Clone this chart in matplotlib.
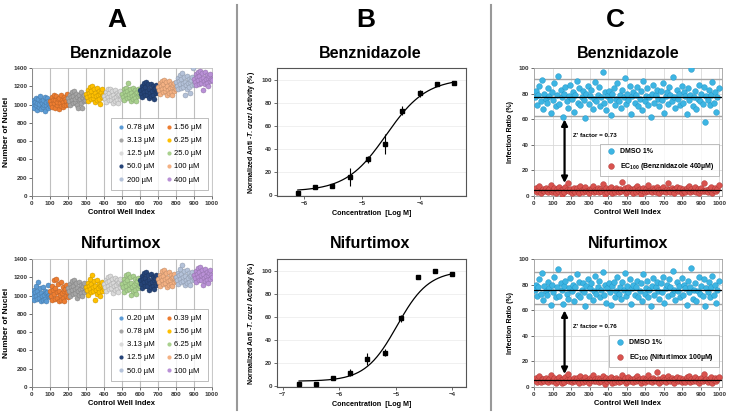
import numpy as np
import matplotlib.pyplot as plt
from matplotlib.lines import Line2D
from matplotlib.colors import to_rgb

plt.rcParams['font.family'] = ['Liberation Sans', 'DejaVu Sans']
plt.rcParams['font.weight'] = 'bold'
plt.rcParams['mathtext.fontset'] = 'custom'
plt.rcParams['mathtext.rm'] = 'Liberation Sans:bold'
plt.rcParams['mathtext.it'] = 'Liberation Sans:italic:bold'
plt.rcParams['mathtext.bf'] = 'Liberation Sans:bold'

# ---------------- panel A: nuclei counts per control well group ----------------
group_colors = ['#5B9BD5', '#ED7D31', '#A5A5A5', '#FFC000', '#D9D9D9',
                '#A9D18E', '#264478', '#F4B183', '#B4C2D9', '#B990D6']

bz_labels = ['0.78 µM', '1.56 µM', '3.13 µM', '6.25 µM', '12.5 µM',
             '25.0 µM', '50.0 µM', '100 µM', '200 µM', '400 µM']
nf_labels = ['0.20 µM', '0.39 µM', '0.78 µM', '1.56 µM', '3.13 µM',
             '6.25 µM', '12.5 µM', '25.0 µM', '50.0 µM', '100 µM']

bz_nuclei = [
    [1012, 985, 1048, 960, 1030, 1075, 995, 940, 1020, 1060, 975, 1005, 1090, 950, 1038, 1015, 968, 1052, 1000, 925, 1082, 990, 1025, 1068, 958, 1042, 1008, 980],
    [1040, 1005, 1080, 975, 1055, 1110, 1020, 960, 1045, 1090, 990, 1030, 1065, 955, 1070, 1015, 985, 1100, 1050, 970, 1025, 1085, 1000, 1060, 1038, 995, 1118, 1010],
    [1070, 1040, 1110, 1000, 1085, 1135, 1055, 1020, 1095, 1150, 1030, 1065, 1120, 990, 1078, 960, 1048, 1100, 1060, 1012, 1140, 1088, 958, 1075, 1035, 1105, 1050, 1082],
    [1115, 1080, 1160, 1040, 1130, 1195, 1095, 1060, 1145, 1205, 1070, 1110, 1175, 1025, 1125, 1090, 1050, 1185, 1100, 1065, 1150, 1120, 1005, 1138, 1085, 1170, 1108, 1075],
    [1095, 1060, 1140, 1030, 1110, 1165, 1080, 1045, 1125, 1170, 1055, 1090, 1150, 1020, 1105, 1070, 1038, 1155, 1085, 1050, 1130, 1100, 1015, 1118, 1065, 1145, 1092, 1075],
    [1120, 1085, 1165, 1050, 1135, 1185, 1100, 1070, 1150, 1240, 1080, 1115, 1175, 1040, 1128, 1095, 1060, 1180, 1110, 1075, 1155, 1125, 1035, 1140, 1090, 1170, 1118, 1102],
    [1160, 1120, 1205, 1085, 1175, 1235, 1140, 1100, 1190, 1245, 1110, 1150, 1220, 1070, 1168, 1130, 1095, 1228, 1145, 1105, 1198, 1165, 1065, 1182, 1125, 1212, 1152, 1135],
    [1190, 1155, 1235, 1120, 1205, 1262, 1170, 1135, 1220, 1268, 1145, 1185, 1248, 1105, 1198, 1160, 1128, 1255, 1178, 1140, 1228, 1195, 1110, 1212, 1150, 1240, 1182, 1165],
    [1245, 1205, 1290, 1165, 1260, 1325, 1225, 1180, 1275, 1340, 1195, 1240, 1305, 1100, 1252, 1215, 1170, 1315, 1235, 1190, 1282, 1250, 1125, 1268, 1210, 1298, 1395, 1230],
    [1285, 1250, 1330, 1210, 1300, 1360, 1265, 1230, 1315, 1370, 1240, 1280, 1345, 1160, 1292, 1255, 1220, 1352, 1275, 1235, 1322, 1290, 1200, 1308, 1260, 1338, 1282, 1270],
]

nf_nuclei = [
    [1020, 985, 1065, 950, 1035, 1110, 1000, 960, 1045, 1150, 970, 1015, 1085, 940, 1030, 995, 955, 1095, 1010, 965, 1055, 1025, 945, 1040, 990, 1120, 1008, 980],
    [1045, 1000, 1100, 950, 1060, 1170, 1020, 960, 1080, 1180, 975, 1040, 1130, 940, 1055, 1010, 955, 1145, 1030, 968, 1090, 1050, 938, 1070, 995, 1115, 1035, 985],
    [1080, 1045, 1125, 1000, 1095, 1160, 1060, 1020, 1110, 1170, 1030, 1075, 1140, 975, 1088, 1050, 1010, 1150, 1070, 1025, 1118, 1085, 990, 1100, 1040, 1135, 1078, 1058],
    [1095, 1060, 1140, 1010, 1110, 1180, 1075, 1035, 1125, 1230, 1045, 1090, 1160, 950, 1102, 1065, 1020, 1170, 1085, 1040, 1130, 1100, 990, 1118, 1055, 1150, 1092, 1070],
    [1130, 1095, 1175, 1050, 1145, 1200, 1110, 1070, 1160, 1210, 1080, 1125, 1185, 1030, 1138, 1100, 1060, 1190, 1120, 1075, 1168, 1135, 1040, 1152, 1090, 1180, 1128, 1105],
    [1130, 1090, 1185, 1040, 1150, 1225, 1105, 1060, 1170, 1240, 1070, 1125, 1200, 1010, 1140, 1095, 1045, 1210, 1115, 1065, 1178, 1135, 1020, 1160, 1080, 1195, 1120, 1100],
    [1165, 1125, 1210, 1080, 1180, 1245, 1145, 1100, 1195, 1255, 1110, 1160, 1230, 1065, 1172, 1135, 1090, 1238, 1150, 1105, 1205, 1170, 1070, 1188, 1120, 1222, 1158, 1140],
    [1185, 1150, 1230, 1110, 1200, 1270, 1165, 1125, 1215, 1280, 1135, 1180, 1250, 1095, 1192, 1155, 1120, 1258, 1175, 1130, 1225, 1190, 1100, 1208, 1145, 1240, 1182, 1162],
    [1205, 1170, 1250, 1130, 1220, 1290, 1185, 1145, 1235, 1330, 1155, 1200, 1270, 1115, 1212, 1175, 1140, 1280, 1195, 1150, 1245, 1210, 1120, 1228, 1165, 1260, 1202, 1182],
    [1225, 1190, 1270, 1150, 1240, 1300, 1205, 1165, 1255, 1315, 1175, 1220, 1285, 1120, 1232, 1195, 1160, 1292, 1215, 1170, 1262, 1230, 1140, 1248, 1185, 1278, 1222, 1200],
]

# ---------------- panel B: dose response ----------------
bz_logc = [-6.11, -5.81, -5.51, -5.20, -4.90, -4.60, -4.30, -4.00, -3.70, -3.40]
bz_act = [1.5, 6.7, 7.8, 15.4, 31.0, 44.0, 73.0, 88.0, 96.5, 97.4]
bz_err = [1.0, 1.0, 1.2, 8.0, 3.0, 8.5, 4.0, 3.0, 1.0, 1.0]
bz_fit = dict(bottom=3.0, top=101.0, logec50=-4.58, hill=1.25)

nf_logc = [-6.71, -6.41, -6.11, -5.81, -5.51, -5.20, -4.90, -4.60, -4.30, -4.00]
nf_act = [1.2, 1.7, 7.0, 11.3, 23.5, 28.8, 58.7, 94.2, 100.0, 96.8]
nf_err = [0.8, 0.8, 1.0, 3.0, 5.0, 3.0, 3.0, 1.0, 1.0, 1.0]
nf_fit = dict(bottom=4.0, top=100.0, logec50=-4.98, hill=1.55)

# ---------------- panel C: infection ratio of control wells ----------------
bz_dmso = [77, 82, 71, 79, 86, 74, 91, 68, 80, 76, 73, 84, 78, 65, 81, 75, 88, 70, 79, 94,
           72, 83, 77, 62, 80, 85, 74, 69, 78, 87, 76, 81, 66, 79, 90, 73, 84, 71, 77, 82,
           75, 61, 80, 86, 72, 78, 83, 68, 76, 89, 74, 79, 85, 70, 77, 97, 73, 81, 67, 78,
           82, 75, 63, 80, 84, 71, 76, 88, 74, 79, 69, 83, 77, 92, 72, 80, 75, 86, 64, 78,
           81, 73, 79, 85, 70, 76, 82, 67, 90, 74, 78, 84, 71, 77, 62, 80, 87, 73, 79, 83,
           76, 70, 82, 75, 88, 65, 78, 81, 72, 85, 79, 74, 93, 77, 69, 83, 76, 80, 71, 86,
           73, 81, 78, 64, 84, 75, 79, 99, 70, 77, 82, 68, 76, 87, 74, 80, 72, 85, 58, 78,
           75, 83, 71, 79, 89, 73, 81, 66, 77, 84]
bz_ec100 = [4.5, 6.1, 3.2, 5.0, 7.8, 2.6, 4.9, 5.7, 3.8, 6.6, 4.1, 2.9, 5.4, 8.9, 3.5, 4.7, 6.2, 2.2, 5.1, 3.9,
            6.8, 4.3, 1.8, 5.6, 3.1, 7.2, 4.6, 10.5, 3.7, 5.3, 2.7, 4.8, 6.4, 3.4, 5.9, 4.0, 2.4, 7.5, 4.4, 3.0,
            5.5, 6.9, 3.6, 4.2, 2.0, 5.8, 4.7, 8.2, 3.3, 5.0, 4.0, 6.3, 2.8, 5.2, 3.9, 9.4, 4.5, 1.6, 6.0, 3.5,
            5.7, 4.1, 7.0, 2.5, 4.9, 3.2, 6.5, 4.3, 2.9, 5.4, 3.8, 11.2, 4.6, 5.9, 2.3, 4.0, 6.7, 3.6, 5.1, 4.8,
            2.6, 6.1, 3.4, 7.7, 4.4, 5.3, 1.9, 4.7, 6.3, 3.1, 5.6, 4.2, 8.6, 3.7, 5.0, 2.8, 6.0, 4.5, 3.3, 7.1,
            4.9, 2.4, 5.5, 3.9, 6.8, 4.1, 3.0, 5.8, 9.8, 4.6, 3.5, 6.4, 4.3, 2.1, 5.2, 7.4, 3.8, 4.8, 6.2, 2.7,
            5.1, 4.0, 3.2, 6.6, 4.4, 8.0, 2.9, 5.7, 3.6, 4.9, 6.9, 3.4, 5.3, 2.5, 4.7, 6.1, 3.9, 10.1, 4.2, 5.0,
            3.1, 5.6, 4.5, 7.3, 2.2, 4.8, 6.0, 3.7, 5.4, 8.4]
nf_dmso = [76, 80, 71, 78, 84, 73, 89, 68, 79, 75, 72, 82, 77, 64, 80, 74, 86, 70, 78, 92,
           71, 81, 76, 65, 79, 83, 73, 69, 77, 85, 75, 80, 67, 78, 88, 72, 82, 70, 76, 81,
           74, 63, 79, 84, 71, 77, 81, 68, 75, 87, 73, 78, 83, 70, 76, 90, 72, 80, 66, 77,
           81, 74, 64, 79, 82, 70, 75, 86, 73, 78, 69, 82, 76, 89, 71, 79, 74, 84, 65, 77,
           80, 72, 78, 83, 70, 75, 81, 67, 88, 73, 77, 83, 70, 76, 63, 79, 85, 72, 78, 82,
           75, 69, 81, 74, 86, 66, 77, 80, 71, 84, 78, 73, 91, 76, 68, 82, 75, 79, 70, 85,
           72, 80, 77, 64, 83, 74, 78, 93, 69, 76, 81, 67, 75, 86, 73, 79, 71, 84, 63, 77,
           74, 82, 70, 78, 87, 72, 80, 66, 76, 83]
nf_ec100 = [5.5, 7.0, 4.2, 6.1, 8.6, 3.7, 5.9, 6.6, 4.8, 7.4, 5.0, 3.9, 6.3, 9.2, 4.5, 5.7, 7.1, 3.2, 6.0, 4.9,
            7.7, 5.3, 2.9, 6.5, 4.1, 8.0, 5.6, 10.2, 4.7, 6.2, 3.6, 5.8, 7.3, 4.4, 6.8, 5.0, 3.4, 8.3, 5.4, 4.0,
            6.4, 7.8, 4.6, 5.2, 3.0, 6.7, 5.7, 9.0, 4.3, 6.0, 5.0, 7.2, 3.8, 6.1, 4.9, 8.8, 5.5, 2.7, 6.9, 4.5,
            6.6, 5.1, 7.9, 3.5, 5.9, 4.2, 7.4, 5.3, 3.9, 6.3, 4.8, 9.6, 5.6, 6.8, 3.3, 5.0, 7.6, 4.6, 6.1, 5.8,
            3.6, 7.0, 4.4, 8.5, 5.4, 6.2, 2.9, 5.7, 7.2, 4.1, 6.5, 5.2, 9.3, 4.7, 6.0, 3.8, 6.9, 5.5, 4.3, 11.8,
            5.9, 3.4, 6.4, 4.9, 7.7, 5.1, 4.0, 6.7, 8.9, 5.6, 4.5, 7.3, 5.3, 3.1, 6.2, 8.2, 4.8, 5.8, 7.1, 3.7,
            6.1, 5.0, 4.2, 7.5, 5.4, 8.7, 3.9, 6.6, 4.6, 5.9, 7.8, 4.4, 6.3, 3.5, 5.7, 7.0, 4.9, 9.9, 5.2, 6.0,
            4.1, 6.5, 5.5, 8.1, 3.2, 5.8, 6.9, 4.7, 6.4, 7.6]

bz_means = (77.0, 4.5)
bz_limits = (91.5, 62.5)
nf_means = (76.0, 5.5)
nf_limits = (89.5, 65.0)
zfactors = [0.73, 0.76]
ec100_labels = ['EC$_{100}$ (Benznidazole 400µM)', 'EC$_{100}$ (Nifurtimox 100µM)']

W, H = 729, 413
fig = plt.figure(figsize=(W / 100, H / 100), dpi=100)


def px_axes(left, top, right, bottom):
    return fig.add_axes([left / W, 1 - bottom / H, (right - left) / W, (bottom - top) / H])


def darker(c, f=0.75):
    r, g, b = to_rgb(c)
    return (r * f, g * f, b * f)


def style_ticks(ax):
    ax.tick_params(labelsize=4.5, length=2, width=0.5, pad=1.5, colors='#333333')
    for lab in ax.get_xticklabels() + ax.get_yticklabels():
        lab.set_fontweight('bold')


def panel_a(ax, groups, labels):
    for i, vals in enumerate(groups):
        x = 100 * i + np.linspace(2, 98, len(vals))
        ax.scatter(x, vals, s=13, color=group_colors[i], edgecolors=darker(group_colors[i]),
                   linewidths=0.3, zorder=3)
    ax.set_xlim(0, 1000)
    ax.set_ylim(0, 1400)
    ax.set_xticks(range(0, 1001, 100))
    ax.set_yticks(range(0, 1401, 200))
    ax.xaxis.grid(True, color='#BFBFBF', lw=0.8)
    ax.set_axisbelow(True)
    for sp in ax.spines.values():
        sp.set_color('#BFBFBF')
        sp.set_linewidth(0.6)
    ax.spines['left'].set_color('#808080')
    ax.spines['bottom'].set_color('#808080')
    style_ticks(ax)
    ax.set_ylabel('Number of Nuclei', fontsize=6, fontweight='bold', labelpad=2)
    ax.set_xlabel('Control Well Index', fontsize=5.5, fontweight='bold', labelpad=2)
    order = [0, 2, 4, 6, 8, 1, 3, 5, 7, 9]
    handles = [Line2D([], [], ls='none', marker='o', ms=3, color=group_colors[k],
                      markeredgewidth=0) for k in order]
    leg = ax.legend(handles, [labels[k] for k in order], ncol=2, loc='lower right',
                    bbox_to_anchor=(1.0, 0.02), fancybox=False, edgecolor='#A0A0A0',
                    prop={'size': 5.5, 'weight': 'normal'}, handletextpad=0.2,
                    columnspacing=1.4, labelspacing=0.75, borderpad=0.8, handlelength=1.0)
    leg.get_frame().set_linewidth(0.6)


def panel_b(ax, logc, act, err, fit, xlim, xticks):
    xs = np.linspace(logc[0], logc[-1], 200)
    ys = fit['bottom'] + (fit['top'] - fit['bottom']) / (1 + 10 ** ((fit['logec50'] - xs) * fit['hill']))
    ax.plot(xs, ys, color='black', lw=0.9, zorder=2)
    ax.errorbar(logc, act, yerr=err, fmt='s', color='black', ms=3.5, elinewidth=0.8,
                capsize=0, zorder=3)
    ax.set_xlim(*xlim)
    ax.set_ylim(-1, 110)
    ax.set_xticks(xticks)
    ax.set_yticks(range(0, 101, 20))
    ax.yaxis.grid(True, color='#EEEEEE', lw=0.6)
    ax.set_axisbelow(True)
    for sp in ax.spines.values():
        sp.set_color('#555555')
        sp.set_linewidth(0.8)
    style_ticks(ax)
    ax.set_ylabel(r'Normalized Anti -$\it{T.cruzi}$ Activity (%)', fontsize=5, fontweight='bold', labelpad=3)
    ax.set_xlabel('Concentration  [Log M]', fontsize=5.2, fontweight='bold', labelpad=3)


def panel_c(ax, dmso, ec, means, limits, zf, ec_label):
    x1 = np.linspace(3, 997, len(dmso))
    x2 = np.linspace(3, 997, len(ec))
    ax.scatter(x1, dmso, s=17, color='#3DB5E3', edgecolors='#1F93C4', linewidths=0.3, zorder=3,
               label='DMSO 1%')
    ax.scatter(x2, ec, s=17, color='#D9534F', edgecolors='#A83532', linewidths=0.3, zorder=3,
               label=ec_label)
    for m in means:
        ax.axhline(m, color='black', lw=0.9, zorder=4)
    for lim in limits:
        ax.axhline(lim, color='#A6A6A6', lw=1.0, zorder=2)
    ax.annotate('', xy=(165, 8), xytext=(165, 62),
                arrowprops=dict(arrowstyle='<|-|>', color='black', lw=1.6, mutation_scale=9),
                zorder=5)
    ax.text(212, 47, "Z' factor = %.2f" % zf, fontsize=4.5, fontweight='bold', va='center', zorder=5)
    ax.set_xlim(0, 1015)
    ax.set_ylim(0, 100)
    ax.set_xticks(range(0, 1001, 100))
    ax.set_yticks(range(0, 101, 20))
    ax.grid(True, color='#D9D9D9', lw=0.6)
    ax.set_axisbelow(True)
    for sp in ax.spines.values():
        sp.set_color('#A0A0A0')
        sp.set_linewidth(0.6)
    style_ticks(ax)
    ax.set_ylabel('Infection Ratio (%)', fontsize=5, fontweight='bold', labelpad=3)
    ax.set_xlabel('Control Well Index', fontsize=5.5, fontweight='bold', labelpad=2)
    leg = ax.legend(loc='lower right', bbox_to_anchor=(1.0, 0.13), fancybox=False,
                    edgecolor='#A0A0A0', prop={'size': 5, 'weight': 'bold'},
                    handletextpad=0.3, borderpad=0.6, labelspacing=0.8, scatterpoints=1)
    leg.get_frame().set_linewidth(0.6)


axA1 = px_axes(32, 68, 212, 196)
axA2 = px_axes(32, 259, 212, 387)
axB1 = px_axes(277, 68, 466, 196)
axB2 = px_axes(277, 259, 466, 387)
axC1 = px_axes(534, 68, 722, 196)
axC2 = px_axes(534, 259, 722, 387)

panel_a(axA1, bz_nuclei, bz_labels)
panel_a(axA2, nf_nuclei, nf_labels)
panel_b(axB1, bz_logc, bz_act, bz_err, bz_fit, (-6.47, -3.2), [-6, -5, -4])
panel_b(axB2, nf_logc, nf_act, nf_err, nf_fit, (-7.1, -3.76), [-7, -6, -5, -4])
panel_c(axC1, bz_dmso, bz_ec100, bz_means, bz_limits, zfactors[0], ec100_labels[0])
panel_c(axC2, nf_dmso, nf_ec100, nf_means, nf_limits, zfactors[1], ec100_labels[1])

# panel letters, titles and separators
for letter, xc in zip('ABC', [117, 366, 615]):
    fig.text(xc / W, 1 - 20 / H, letter, fontsize=19, fontweight='bold', ha='center', va='center')
for xc in [121, 370, 628]:
    fig.text(xc / W, 1 - 54 / H, 'Benznidazole', fontsize=11.5, fontweight='bold', ha='center', va='center')
    fig.text(xc / W, 1 - 244 / H, 'Nifurtimox', fontsize=11.5, fontweight='bold', ha='center', va='center')
for xs in [237, 491]:
    fig.add_artist(Line2D([xs / W, xs / W], [1 - 5 / H, 1 - 410 / H], color='#999999', lw=1.5))

fig.savefig('out.png', dpi=100)
